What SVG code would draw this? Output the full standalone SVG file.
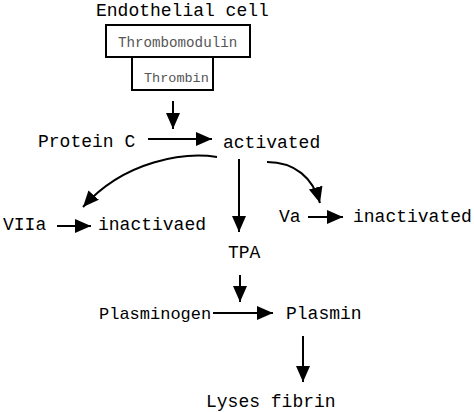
<svg xmlns="http://www.w3.org/2000/svg" width="474" height="412" viewBox="0 0 474 412">
<defs>
<style>
.t{font-family:"Liberation Mono","Courier New",monospace;font-size:18px;fill:#000}
.b{font-family:"Liberation Mono","Courier New",monospace;fill:#555}
.box{fill:#fff;stroke:#000;stroke-width:2}
.c{fill:none;stroke:#000;stroke-width:2}
</style>
<marker id="ah" markerUnits="userSpaceOnUse" markerWidth="17" markerHeight="15" refX="16" refY="7" orient="auto">
<path d="M0,0 L16,7 L0,14 z" fill="#000"/>
</marker>
</defs>
<rect width="474" height="412" fill="#fff"/>
<g id="endothelial"><text class="t" x="96" y="16">Endothelial cell</text></g>
<g id="thrombomodulin"><rect class="box" x="106" y="25" width="144" height="32"/><text class="b" x="118" y="47" font-size="14.2">Thrombomodulin</text></g>
<g id="thrombin"><rect class="box" x="132" y="57" width="81" height="33"/><text class="b" x="144" y="82" font-size="13.5">Thrombin</text></g>
<g id="proteinC"><text class="t" x="38" y="147">Protein C</text></g>
<g id="activated"><text class="t" x="223" y="148">activated</text></g>
<g id="VIIa"><text class="t" x="3" y="230">VIIa</text></g>
<g id="inactivaed"><text class="t" x="98" y="230">inactivaed</text></g>
<g id="Va"><text class="t" x="279" y="222">Va</text></g>
<g id="inactivated"><text class="t" x="353" y="222">inactivated</text></g>
<g id="TPA"><text class="t" x="228" y="258">TPA</text></g>
<g id="plasminogen"><text class="t" x="99" y="319" style="font-size:17px">Plasminogen</text></g>
<g id="plasmin"><text class="t" x="286" y="319">Plasmin</text></g>
<g id="lyses"><text class="t" x="206" y="407">Lyses fibrin</text></g>
<g id="connectors">
<line class="c" x1="173" y1="101" x2="173" y2="129" marker-end="url(#ah)"/>
<line class="c" x1="148" y1="139" x2="212" y2="139" marker-end="url(#ah)"/>
<path class="c" d="M217,157 C185,152 125,160 83,207" marker-end="url(#ah)"/>
<path class="c" d="M267,162 C295,162 313,178 320,203" marker-end="url(#ah)"/>
<line class="c" x1="239" y1="159" x2="239" y2="232" marker-end="url(#ah)"/>
<line class="c" x1="57" y1="226" x2="91" y2="226" marker-end="url(#ah)"/>
<line class="c" x1="308" y1="217" x2="343" y2="217" marker-end="url(#ah)"/>
<line class="c" x1="240" y1="275" x2="240" y2="302" marker-end="url(#ah)"/>
<line class="c" x1="213" y1="313" x2="273" y2="313" marker-end="url(#ah)"/>
<line class="c" x1="303" y1="336" x2="303" y2="382" marker-end="url(#ah)"/>
</g>
</svg>
